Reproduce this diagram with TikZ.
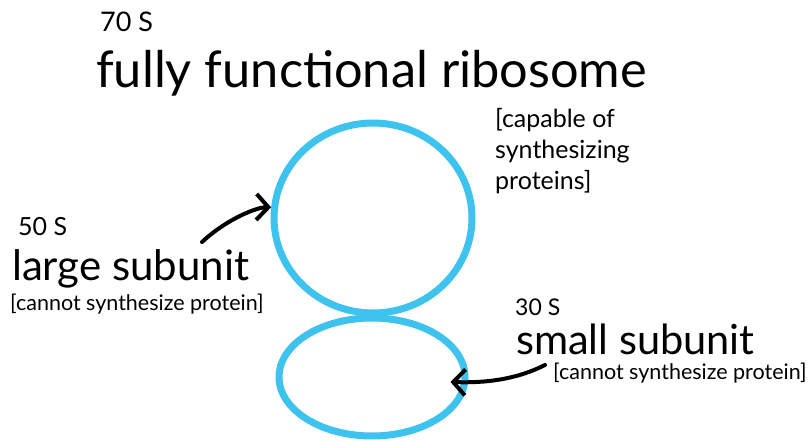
\documentclass[tikz,border=0pt]{standalone}
\usepackage{fontspec}
\setmainfont{Lato}
\usepackage{tikz}
\usetikzlibrary{positioning,arrows.meta,shapes.geometric}
\definecolor{ribo}{HTML}{3EC3EF}

\begin{document}
\begin{tikzpicture}[
  x=1pt,y=-1pt,
  line join=round,
  subunit/.style={ellipse,draw=ribo,line width=7pt,inner sep=0pt},
  pointer/.style={
    -{Straight Barb[length=12pt,width=26pt,line width=4pt]},
    line width=4pt,line cap=round
  },
  tag/.style={anchor=base west,inner sep=0pt,
    font=\fontsize{25}{28}\selectfont},
  big label/.style={anchor=base west,inner sep=0pt,
    font=\fontsize{42}{46}\selectfont},
  note/.style={anchor=base west,inner sep=0pt,
    font=\fontsize{21.5}{24}\selectfont}
]

\useasboundingbox (0,0) rectangle (809,441);

% ==================================================
% 70 S
% ==================================================
\node[tag,font=\fontsize{27}{30}\selectfont] (tag70) at (100,32) {70 S};
\node[anchor=base west,inner sep=0pt,font=\fontsize{50.5}{54}\selectfont]
  (title) at (96,88) {fully functional ribosome};
\node[anchor=north west,inner sep=0pt,align=left,
  font=\fontsize{25}{31}\selectfont]
  (capable) at (495,108) {[capable of\\synthesizing\\proteins]};

% ==================================================
% the two subunits
% ==================================================
\node[subunit,minimum width=198pt,minimum height=190pt]
  (largeunit) at (373,218) {};
\node[subunit,minimum width=186pt,minimum height=118pt]
  (smallunit) at (372,377) {};

% ==================================================
% 50 S
% ==================================================
\node[tag] (tag50) at (18,235) {50 S};
\node[big label] (large) at (12,280) {large subunit};
\node[note] (largenote) at (10,310) {[cannot synthesize protein]};

\coordinate (lfrom) at (202,242);
\draw[pointer] (lfrom) .. controls (228,218) and (258,207) .. (largeunit.174);

% ==================================================
% 30 S
% ==================================================
\node[tag,font=\fontsize{23}{26}\selectfont] (tag30) at (515,315) {30 S};
\node[big label,font=\fontsize{41.5}{46}\selectfont]
  (small) at (516,354) {small subunit};
\node[note] (smallnote) at (553,379) {[cannot synthesize protein]};

\coordinate (sfrom) at (545,365);
\draw[pointer] (sfrom) .. controls (515,380) and (485,383)
  .. ([xshift=-18pt,yshift=-5pt]smallunit.east);

\end{tikzpicture}
\end{document}
